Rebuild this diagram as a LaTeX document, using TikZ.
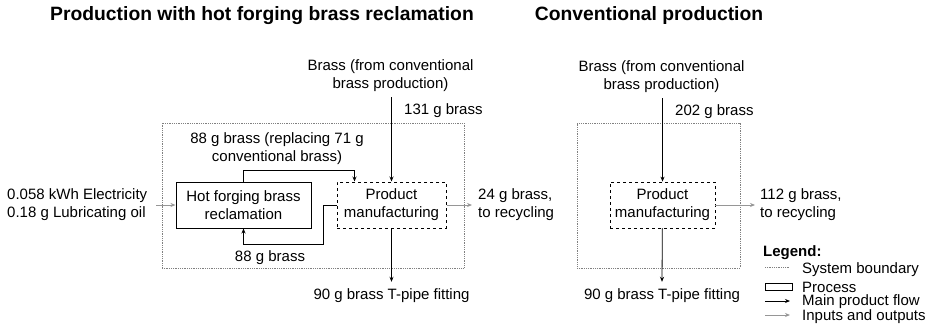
\documentclass[tikz,border=0pt]{standalone}
\usepackage{fontspec}
\setmainfont{Liberation Sans}
\usetikzlibrary{arrows.meta, positioning}
\definecolor{iogray}{RGB}{150,150,150}

\begin{document}
\begin{tikzpicture}[
        x=1pt, y=1pt,
        font=\fontsize{15}{18}\selectfont,
        txt/.style={align=center, inner sep=0pt},
        ltxt/.style={align=left, anchor=west, inner sep=0pt},
        title/.style={inner sep=0pt, font=\bfseries\fontsize{19.3}{22}\selectfont},
        proc/.style={rectangle, draw, line width=1pt, align=center, inner sep=0pt,
            minimum width=135pt, minimum height=46pt},
        sysbound/.style={rectangle, draw=gray, densely dotted, line width=0.8pt},
        mainflow/.style={draw, line width=0.8pt, -{Stealth[length=5pt,width=4pt]}},
        ioflow/.style={draw=iogray, line width=0.8pt, -{Stealth[length=5pt,width=4pt]}}
    ]
        \useasboundingbox (0,0) rectangle (935,-335);

        % titles
        \node[title] (titleA) at (262,-16) {Production with hot forging brass reclamation};
        \node[title] (titleB) at (649,-16) {Conventional production};

        % left: with reclamation
        \node[sysbound, minimum width=302pt, minimum height=145pt] (bndA) at (313,-195.5) {};
        \node[txt] (srcA) at (390.5,-76) {Brass (from conventional\\brass production)};
        \node[proc] (hfb) at (243.5,-205) {Hot forging brass\\reclamation};
        \node[proc, dashed, minimum width=109pt] (pmA) at (391.5,-205) {Product\\manufacturing};
        \node[ltxt] (inA) at (404,-111) {131 g brass};
        \node[txt] (loopTop) at (277,-149) {88 g brass (replacing 71 g\\conventional brass)};
        \node[txt] (loopBot) at (270,-258) {88 g brass};
        \node[ltxt] (inpA) at (7,-205) {0.058 kWh Electricity\\0.18 g Lubricating oil};
        \node[ltxt] (recA) at (478,-205) {24 g brass,\\to recycling};
        \node[txt] (tpA) at (391.5,-296) {90 g brass T-pipe fitting};

        \draw[mainflow, shorten <=5pt] (srcA.south -| pmA.north) -- (pmA.north);
        \draw[mainflow] (hfb.north) -- ++(0,11) -| ([xshift=-37pt]pmA.north);
        \draw[mainflow] (pmA.west) -- ++(-13,0) -- ++(0,-39) -| (hfb.south);
        \draw[ioflow] ([xshift=9pt]inpA.east) -- (hfb.west);
        \draw[ioflow] (pmA.east) -- ([xshift=-6pt]recA.west);
        \draw[mainflow] (pmA) -- ([yshift=7pt]tpA.north);

        % right: conventional
        \node[sysbound, minimum width=163pt, minimum height=145pt] (bndB) at (658.5,-195.5) {};
        \node[txt] (srcB) at (661.5,-77) {Brass (from conventional\\brass production)};
        \node[proc, dashed, line width=0.8pt, minimum width=105pt] (pmB) at (662.5,-205) {Product\\manufacturing};
        \node[ltxt] (inB) at (675,-112) {202 g brass};
        \node[ltxt] (recB) at (760,-205) {112 g brass,\\to recycling};
        \node[txt] (tpB) at (662,-296) {90 g brass T-pipe fitting};

        \draw[mainflow, shorten <=5pt] (srcB.south -| pmB.north) -- (pmB.north);
        \draw[ioflow] (pmB.east) -- ([xshift=-5pt]recB.west);
        \draw[mainflow] (pmB) -- ([yshift=7pt]tpB.north);

        % legend
        \node[ltxt, font=\bfseries\fontsize{15}{18}\selectfont] (legend) at (763,-253) {Legend:};
        \node[ltxt] (lgSys) at (802,-270) {System boundary};
        \node[ltxt] (lgProc) at (802,-287) {Process};
        \node[ltxt] (lgMain) at (802,-302) {Main product flow};
        \node[ltxt] (lgIO) at (802,-317) {Inputs and outputs};
        \draw[gray, densely dotted, line width=0.8pt] (765,-267) -- (790,-267);
        \draw[line width=0.8pt] (765,-283) rectangle (792,-290);
        \draw[mainflow] (765,-301) -- (790,-301);
        \draw[ioflow] (765,-315) -- (790,-315);
    \end{tikzpicture}
\end{document}
